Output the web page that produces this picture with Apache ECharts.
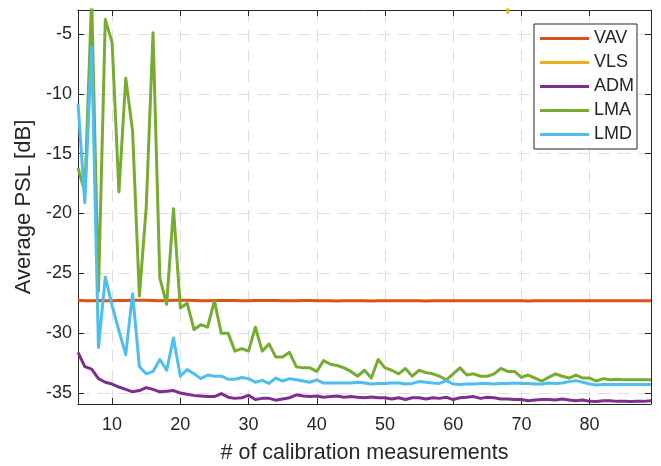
<!DOCTYPE html>
<html>
<head>
<meta charset="utf-8">
<script src="https://cdn.jsdelivr.net/npm/echarts@6/dist/echarts.min.js"></script>
<style>
  html, body { margin: 0; padding: 0; background: #fff; }
  #chart { width: 661px; height: 466px; }
</style>
</head>
<body>
<div id="chart"></div>
<script>
// Number of calibration measurements (x values)
const measurements = [];
for (let n = 5; n <= 89; n++) measurements.push(n);

const xTicks = [10, 20, 30, 40, 50, 60, 70, 80];
const yTicks = [-35, -30, -25, -20, -15, -10, -5];

// Average PSL [dB] per method, one value per measurement count 5..89
const vav = [
  -27.25, -27.3, -27.3, -27.28, -27.3, -27.3, -27.28, -27.27, -27.25, -27.25,
  -27.25, -27.27, -27.3, -27.27, -27.25, -27.25, -27.25, -27.27, -27.3, -27.3,
  -27.28, -27.27, -27.27, -27.28, -27.3, -27.3, -27.28, -27.27, -27.27, -27.28,
  -27.3, -27.3, -27.3, -27.28, -27.28, -27.3, -27.3, -27.3, -27.32, -27.3,
  -27.3, -27.3, -27.3, -27.32, -27.3, -27.3, -27.3, -27.3, -27.3, -27.3,
  -27.3, -27.32, -27.3, -27.3, -27.3, -27.3, -27.3, -27.3, -27.3, -27.3,
  -27.3, -27.3, -27.3, -27.3, -27.3, -27.3, -27.32, -27.3, -27.3, -27.3,
  -27.3, -27.3, -27.3, -27.3, -27.3, -27.3, -27.3, -27.3, -27.3, -27.3,
  -27.3, -27.3, -27.3, -27.3, -27.3
];

const vls = [
  9.4, 12.1, 7.8, 10.5, 6.9, 8.2, 11.3, 7.4, 9.9, 6.1,
  8.7, 10.2, 7.5, 5.9, 9.1, 6.6, 8.4, 7.2, 5.5, 6.8,
  7.9, 5.2, 6.4, 7.1, 4.9, 6.2, 5.8, 4.4, 6.9, 5.1,
  4.7, 5.9, 6.3, 4.2, 5.4, 4.8, 6.1, 3.9, 5.0, 4.6,
  5.7, 4.1, 3.8, 5.2, 4.4, 3.6, 4.9, 4.0, 3.3, 4.5,
  3.9, 3.1, 4.2, 3.5, 2.9, 3.8, 3.2, 2.7, 3.6, 3.0,
  4.1, 3.4, 6.5, -3.2, 4.8, 3.7, 2.8, 3.3, 2.6, 3.1,
  2.5, 3.0, 2.9, 2.4, 3.2, 2.7, 2.3, 2.9, 2.6, 2.2,
  2.8, 2.5, 2.4, 2.6, 2.3
];

const adm = [
  -31.6, -32.8, -33.0, -33.8, -34.1, -34.25, -34.5, -34.7, -34.9, -34.8,
  -34.55, -34.7, -34.9, -34.85, -34.8, -35.0, -35.1, -35.2, -35.25, -35.3,
  -35.3, -35.05, -35.35, -35.45, -35.4, -35.2, -35.55, -35.45, -35.45, -35.6,
  -35.5, -35.4, -35.15, -35.25, -35.3, -35.25, -35.36, -35.3, -35.25, -35.36,
  -35.3, -35.36, -35.4, -35.33, -35.4, -35.4, -35.5, -35.4, -35.55, -35.4,
  -35.4, -35.5, -35.4, -35.45, -35.36, -35.55, -35.4, -35.36, -35.3, -35.45,
  -35.36, -35.4, -35.5, -35.5, -35.55, -35.55, -35.64, -35.58, -35.55, -35.55,
  -35.58, -35.5, -35.58, -35.64, -35.58, -35.7, -35.72, -35.64, -35.64, -35.7,
  -35.7, -35.72, -35.7, -35.7, -35.64
];

const lma = [
  -16.2, -18.2, -2.0, -26.5, -3.8, -5.7, -18.2, -8.7, -13.1, -26.9,
  -19.5, -4.9, -25.4, -27.6, -19.6, -27.9, -27.5, -29.7, -29.3, -29.5,
  -27.3, -30.0, -30.0, -31.5, -31.3, -31.5, -29.5, -31.5, -30.9, -32.0,
  -32.0, -31.6, -32.8, -32.9, -32.9, -33.2, -32.3, -32.6, -32.7, -32.9,
  -33.2, -33.6, -33.1, -33.75, -32.2, -32.9, -33.1, -33.4, -32.95, -33.6,
  -33.1, -33.3, -33.4, -33.6, -33.9, -33.4, -32.9, -33.5, -33.4, -33.6,
  -33.6, -33.4, -32.95, -33.2, -33.2, -33.7, -33.5, -33.75, -34.0, -33.7,
  -33.4, -33.6, -33.75, -33.5, -33.75, -33.75, -34.0, -33.8, -33.9, -33.85,
  -33.9, -33.9, -33.9, -33.9, -33.9
];

const lmd = [
  -10.8, -19.1, -6.1, -31.2, -25.3, -27.7, -29.8, -31.8, -26.7, -32.8,
  -33.4, -33.2, -32.2, -33.1, -30.4, -33.6, -33.05, -33.4, -33.8, -33.5,
  -33.6, -33.6, -33.85, -33.85, -33.7, -33.8, -34.1, -33.95, -34.2, -33.75,
  -34.0, -33.8, -33.9, -34.0, -34.1, -33.9, -34.17, -34.17, -34.17, -34.17,
  -34.17, -34.1, -34.17, -34.25, -34.2, -34.2, -34.17, -34.17, -34.25, -34.2,
  -34.05, -34.1, -34.17, -34.2, -33.97, -34.25, -34.3, -34.25, -34.25, -34.2,
  -34.2, -34.25, -34.2, -34.2, -34.17, -34.2, -34.2, -34.25, -34.25, -34.17,
  -34.2, -34.17, -34.05, -33.97, -34.1, -34.25, -34.33, -34.3, -34.3, -34.3,
  -34.3, -34.3, -34.3, -34.3, -34.3
];

const seriesNames = ['VAV', 'VLS', 'ADM', 'LMA', 'LMD'];
const seriesValues = [vav, vls, adm, lma, lmd];
const seriesColors = ['#D95319', '#EDB120', '#7E2F8E', '#77AC30', '#4DBEEE'];

const FONT = '"Liberation Sans", Arial, Helvetica, sans-serif';
const INK = '#262626';
const X_MIN = 5, X_MAX = 89, Y_MIN = -35.92, Y_MAX = -3;

function pairs(values) {
  return values.map((v, i) => [measurements[i], v]);
}

const gridLine = { show: true, lineStyle: { color: '#dedede', width: 1, type: [12, 8] } };
const frameLine = { show: true, onZero: false, lineStyle: { color: INK, width: 1 } };

function xAxisDef(bottom) {
  return {
    type: 'value', position: bottom ? 'bottom' : 'top',
    min: X_MIN, max: X_MAX,
    axisLine: frameLine,
    axisTick: { show: true, inside: true, length: 6, customValues: xTicks, lineStyle: { color: INK } },
    axisLabel: bottom
      ? { show: true, customValues: xTicks, color: INK, fontFamily: FONT, fontSize: 18, margin: 12 }
      : { show: false },
    splitLine: bottom ? gridLine : { show: false },
    name: bottom ? '# of calibration measurements' : '',
    nameLocation: 'middle', nameGap: 38,
    nameTextStyle: { color: INK, fontFamily: FONT, fontSize: 21.5 }
  };
}

function yAxisDef(left) {
  return {
    type: 'value', position: left ? 'left' : 'right',
    min: Y_MIN, max: Y_MAX,
    axisLine: frameLine,
    axisTick: { show: true, inside: true, length: 6, customValues: yTicks, lineStyle: { color: INK } },
    axisLabel: left
      ? { show: true, customValues: yTicks, color: INK, fontFamily: FONT, fontSize: 18, margin: 6 }
      : { show: false },
    splitLine: left ? gridLine : { show: false },
    name: left ? 'Average PSL [dB]' : '',
    nameLocation: 'middle', nameGap: 39,
    nameTextStyle: { color: INK, fontFamily: FONT, fontSize: 22 }
  };
}

const chart = echarts.init(document.getElementById('chart'), null, { renderer: 'canvas' });
chart.setOption({
  animation: false,
  backgroundColor: '#fff',
  grid: { left: 78, top: 10, right: 10, bottom: 62, containLabel: false, outerBoundsMode: 'none' },
  xAxis: [xAxisDef(true), xAxisDef(false)],
  yAxis: [yAxisDef(true), yAxisDef(false)],
  legend: {
    orient: 'vertical', left: 534, top: 24,
    data: seriesNames.map(name => ({ name, icon: 'rect' })),
    itemWidth: 49, itemHeight: 3, itemGap: 5,
    padding: [5, 3, 5, 6],
    borderColor: INK, borderWidth: 1, backgroundColor: '#fff',
    textStyle: { color: INK, fontFamily: FONT, fontSize: 18, lineHeight: 19 }
  },
  series: seriesNames.map((name, k) => ({
    name, type: 'line',
    data: pairs(seriesValues[k]),
    symbol: 'none', clip: true,
    color: seriesColors[k],
    lineStyle: { width: 3, color: seriesColors[k], join: 'round' },
    emphasis: { disabled: true }
  }))
});
</script>
</body>
</html>
